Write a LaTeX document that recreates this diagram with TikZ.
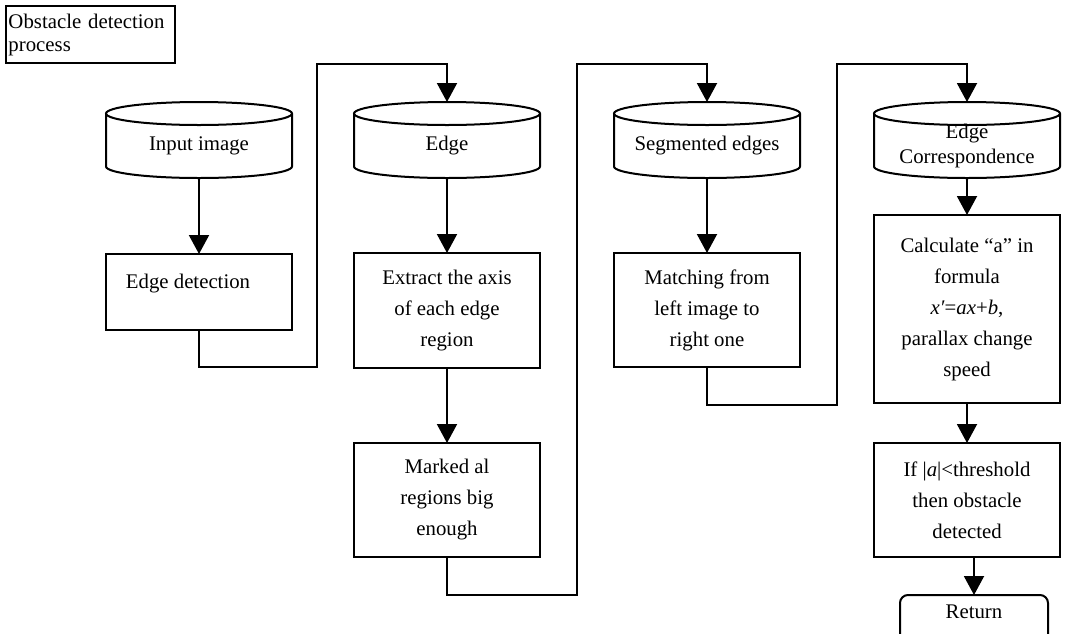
\documentclass[tikz,border=0pt]{standalone}
\usepackage{fontspec}
\setmainfont{Liberation Serif}
\usetikzlibrary{arrows.meta,calc}

\tikzset{
  box/.style={draw, line width=1pt, align=center, inner sep=1pt, outer sep=0pt, minimum width=93pt, font=\fontsize{10.4}{15.5}\selectfont},
  drum/.style={align=center, inner sep=1pt, outer sep=0pt, minimum width=93pt, minimum height=32.25pt, font=\fontsize{10.4}{12.5}\selectfont},
  flow/.style={line width=1pt, -{Triangle[width=10pt,length=9.5pt]}},
  wire/.style={line width=1pt}
}

\begin{document}
\begin{tikzpicture}[x=0.5pt,y=-0.5pt]
\useasboundingbox (0,0) rectangle (1071,633);
% title
\node[draw, line width=1pt, minimum width=84.5pt, minimum height=28.5pt, text width=82pt, align=left, inner sep=1pt, font=\fontsize{10.4}{11.5}\selectfont] (ttl) at (90.5,34.5) {Obstacle detection\\process};
% data stores
\node[drum] (img) at (199,145.75) {Input image};
\node[drum] (edg) at (447,145.75) {Edge};
\node[drum] (seg) at (707,145.75) {Segmented edges};
\node[drum] (cor) at (967,145.75) {Edge\\Correspondence};
\foreach \n in {img,edg,seg,cor}{
  \draw[wire] (\n.north west) -- ($(\n.south west)+(0,5.75pt)$) arc[start angle=180,end angle=360,x radius=46.5pt,y radius=5.75pt] -- (\n.north east);
  \draw[wire] (\n.north) ellipse[x radius=46.5pt,y radius=5.75pt];
}
% steps
\node[box, minimum height=38pt, text depth=11pt] (det) at (199,292) {Edge detection\hspace*{11pt}};
\node[box, minimum height=57.5pt] (ext) at (447,310.5) {Extract the axis\\of each edge\\region};
\node[box, minimum height=57pt] (mark) at (447,500) {Marked al\\regions big\\enough};
\node[box, minimum height=57pt] (match) at (707,310) {Matching from\\left image to\\right one};
\node[box, minimum height=94pt] (calc) at (967,309) {Calculate “a” in\\formula\\\textit{x′}=\textit{ax}+\textit{b},\\parallax change\\speed};
\node[box, minimum height=57pt] (thr) at (967,500) {If |\textit{a}|<threshold\\then obstacle\\detected};
\node[box, rounded corners=4pt, minimum width=74pt, minimum height=24pt, text depth=7pt] (ret) at (974,619) {Return};
% straight arrows
\draw[flow] (img) -- (det);
\draw[flow] (edg) -- (ext);
\draw[flow] (ext) -- (mark);
\draw[flow] (seg) -- (match);
\draw[flow] (cor) -- (calc);
\draw[flow] (calc) -- (thr);
\draw[flow] (thr.south -| ret.north) -- (ret.north);
% loops back to the top
\coordinate (b1) at (317,367); \coordinate (u1) at (317,64);
\coordinate (b2) at (577,595); \coordinate (u2) at (577,64);
\coordinate (b3) at (837,405); \coordinate (u3) at (837,64);
\draw[flow] (det.south) |- (b1) -- (u1) -| ([yshift=5.75pt]edg.north);
\draw[flow] (mark.south) |- (b2) -- (u2) -| ([yshift=5.75pt]seg.north);
\draw[flow] (match.south) |- (b3) -- (u3) -| ([yshift=5.75pt]cor.north);
\end{tikzpicture}
\end{document}
